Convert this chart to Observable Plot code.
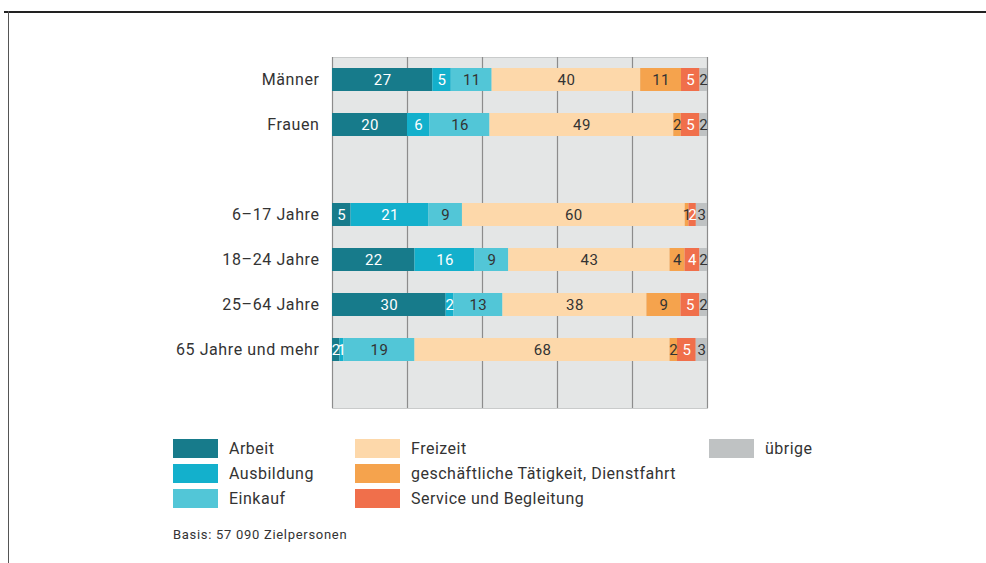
<!DOCTYPE html>
<html>
<head>
<meta charset="utf-8">
<script src="https://cdn.jsdelivr.net/npm/d3@7"></script>
<script src="https://cdn.jsdelivr.net/npm/@observablehq/plot@0.6"></script>
<style>
  html, body { margin: 0; padding: 0; background: #fff; }
  #wrap { position: relative; width: 986px; height: 563px; overflow: hidden; font-family: Roboto, "Noto Sans", sans-serif; color: #333; }
  .topline { position: absolute; left: 4px; top: 11px; width: 982px; height: 1.5px; background: #222; }
  .leftline { position: absolute; left: 8px; top: 11px; width: 1.3px; height: 560px; background: #555; }
  #chart { position: absolute; left: 0; top: 0; }
  .legend { position: absolute; font-size: 16px; letter-spacing: 0.5px; color: #333; }
  .item { position: absolute; white-space: nowrap; }
  .sw { position: absolute; width: 45px; height: 19px; }
  .lab { position: absolute; left: 56px; top: 0; line-height: 19px; }
  .caption { position: absolute; left: 173px; top: 527px; font-size: 13px; letter-spacing: 0.7px; color: #333; }
</style>
</head>
<body>
<div id="wrap">
  <div class="topline"></div>
  <div class="leftline"></div>
  <div id="chart"></div>
  <div class="legend" id="legend"></div>
  <div class="caption" id="caption"></div>
</div>
<script>
const groups = ["Männer", "Frauen", "6–17 Jahre", "18–24 Jahre", "25–64 Jahre", "65 Jahre und mehr"];
const purposes = ["Arbeit", "Ausbildung", "Einkauf", "Freizeit", "geschäftliche Tätigkeit, Dienstfahrt", "Service und Begleitung", "übrige"];
const colors = ["#177b8b", "#13b0cc", "#52c6d7", "#fdd8aa", "#f5a34d", "#f06f4b", "#bfc2c3"];
const labelLight = ["Arbeit", "Ausbildung", "Service und Begleitung"];

const maenner = [27, 5, 11, 40, 11, 5, 2];
const frauen = [20, 6, 16, 49, 2, 5, 2];
const age6_17 = [5, 21, 9, 60, 1, 2, 3];
const age18_24 = [22, 16, 9, 43, 4, 4, 2];
const age25_64 = [30, 2, 13, 38, 9, 5, 2];
const age65plus = [2, 1, 19, 68, 2, 5, 3];
const series = [maenner, frauen, age6_17, age18_24, age25_64, age65plus];

const gridTicks = [0, 0.2, 0.4, 0.6, 0.8, 1];
const captionText = "Basis: 57 090 Zielpersonen";

const yDomain = [groups[0], groups[1], " ", groups[2], groups[3], groups[4], groups[5]];

const data = [];
groups.forEach((g, gi) => purposes.forEach((p, pi) => data.push({group: g, purpose: p, value: series[gi][pi]})));

const stackOpts = {x: "value", y: "group", z: "purpose", order: purposes, offset: "normalize"};

const chart = Plot.plot({
  width: 730,
  height: 420,
  marginLeft: 332,
  marginRight: 23,
  marginTop: 57,
  marginBottom: 12,
  style: {fontFamily: "Roboto, 'Noto Sans', sans-serif", fontSize: "14px", color: "#333", background: "transparent", letterSpacing: "0.4px"},
  x: {domain: [0, 1], axis: null},
  y: {domain: yDomain, paddingInner: 0.485, paddingOuter: 0.2425, insetBottom: 36, axis: null},
  color: {domain: purposes, range: colors},
  marks: [
    Plot.frame({fill: "#e4e6e6", stroke: "#c9cbcb"}),
    Plot.ruleX(gridTicks, {stroke: "#8c8c8c", strokeWidth: 1.2}),
    Plot.barX(data, Plot.stackX({...stackOpts, fill: "purpose"})),
    Plot.text(data, Plot.stackX({...stackOpts, text: d => labelLight.includes(d.purpose) ? String(d.value) : "", fill: "white", fontSize: 15})),
    Plot.text(data, Plot.stackX({...stackOpts, text: d => labelLight.includes(d.purpose) ? "" : String(d.value), fill: "#333", fontSize: 15})),
    Plot.axisY(groups, {tickSize: 0, tickPadding: 13, fontSize: 16, fill: "#333", label: null})
  ]
});
chart.querySelectorAll("g[aria-label='y-axis tick label'] text").forEach(t => t.setAttribute("letter-spacing", "0.6px"));
document.getElementById("chart").appendChild(chart);

// Legend (three columns)
const legendCols = [[0, 1, 2], [3, 4, 5], [6]];
const colX = [173, 355, 709];
const rowY = [439, 464, 489];
const legend = document.getElementById("legend");
legendCols.forEach((col, ci) => col.forEach((pi, ri) => {
  const item = document.createElement("div");
  item.className = "item";
  item.style.left = colX[ci] + "px";
  item.style.top = rowY[ri] + "px";
  const sw = document.createElement("div");
  sw.className = "sw";
  sw.style.background = colors[pi];
  const lab = document.createElement("div");
  lab.className = "lab";
  lab.textContent = purposes[pi];
  item.appendChild(sw);
  item.appendChild(lab);
  legend.appendChild(item);
}));
document.getElementById("caption").textContent = captionText;
</script>
</body>
</html>
